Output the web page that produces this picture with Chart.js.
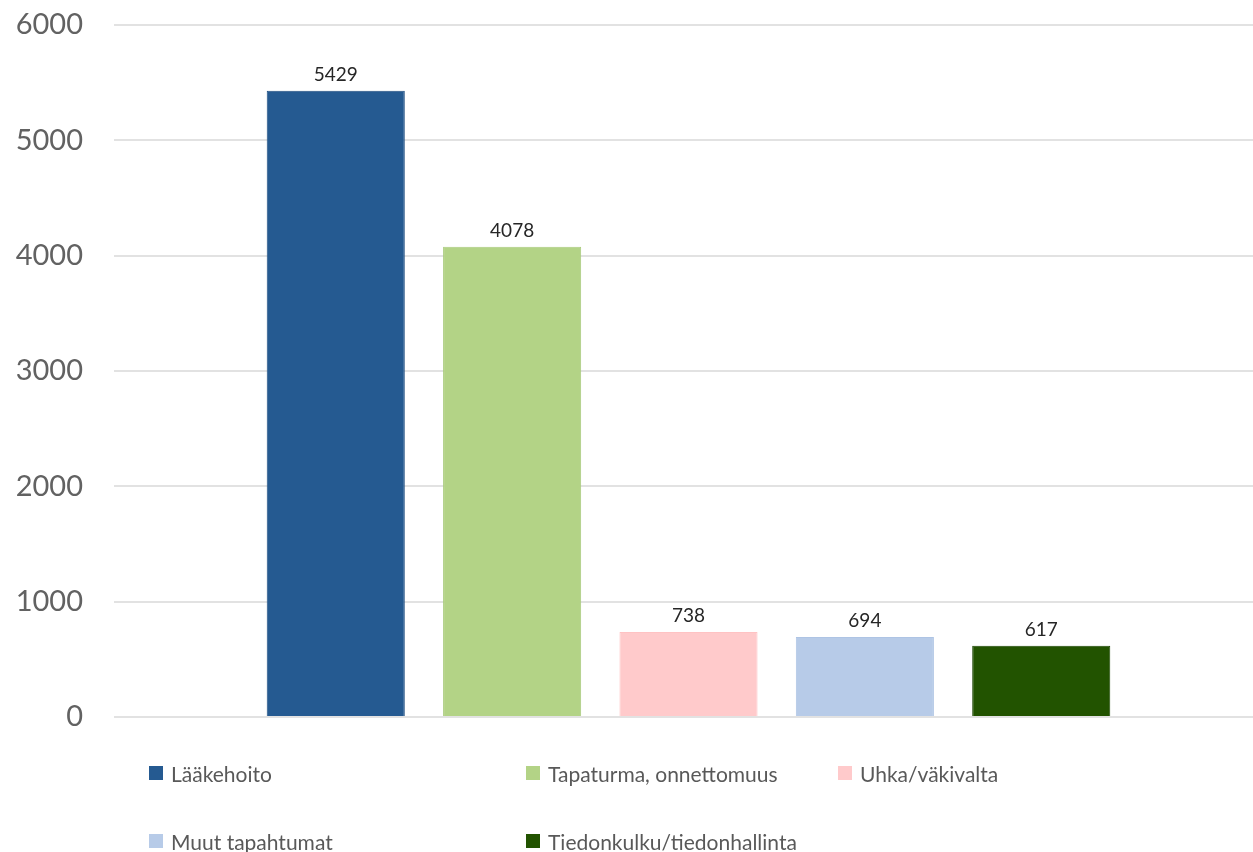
<!DOCTYPE html>
<html lang="fi">
<head>
<meta charset="utf-8">
<title>Haittatapahtumat tyypeittäin</title>
<script src="https://cdn.jsdelivr.net/npm/chart.js@4.4.1/dist/chart.umd.min.js"></script>
<style>
  html, body { margin: 0; padding: 0; background: #ffffff; }
  #wrap { position: relative; width: 1253px; height: 852px; overflow: hidden; }
  #chart { position: absolute; left: 0; top: 0; }
  #legend {
    position: absolute; left: 149px; top: 739px;
    display: grid; grid-template-columns: 377px 312px auto; grid-auto-rows: 68px;
    font-family: Lato, "Open Sans", sans-serif; font-size: 21px; color: #595959;
  }
  .item { display: flex; align-items: center; white-space: nowrap; }
  .box { width: 14px; height: 14px; margin-right: 8px; flex: none; }
</style>
</head>
<body>
<div id="wrap">
  <canvas id="chart" width="1263" height="741"></canvas>
  <div id="legend"></div>
</div>
<script>
// Series (one bar each, all in a single group)
const seriesNames = [
  'Lääkehoito',
  'Tapaturma, onnettomuus',
  'Uhka/väkivalta',
  'Muut tapahtumat',
  'Tiedonkulku/tiedonhallinta'
];
const seriesValues = [5429, 4078, 738, 694, 617];
const seriesColors = ['#255a91', '#b3d386', '#ffcacb', '#b7cbe8', '#225300'];
const seriesBorders = ['#1f4e80', '#a9cb7c', '#ffc2c3', '#aec4e4', '#1b4600'];
const categories = [''];

// Value axis
const yMin = 0;
const yMax = 6000;
const yStep = 1000;

const datasets = seriesNames.map((name, i) => ({
  label: name,
  data: [seriesValues[i]],
  backgroundColor: seriesColors[i],
  borderColor: seriesBorders[i],
  borderWidth: 1,
  categoryPercentage: 0.7675,
  barPercentage: 0.783
}));

// Value labels above each bar
const valueLabels = {
  id: 'valueLabels',
  afterDatasetsDraw(chart) {
    const ctx = chart.ctx;
    ctx.save();
    ctx.font = '19px Lato, "Open Sans", sans-serif';
    ctx.fillStyle = '#262626';
    ctx.textAlign = 'center';
    ctx.textBaseline = 'alphabetic';
    chart.data.datasets.forEach((ds, di) => {
      const meta = chart.getDatasetMeta(di);
      meta.data.forEach((bar, j) => {
        ctx.fillText(String(ds.data[j]), bar.x, bar.y - 10);
      });
    });
    ctx.restore();
  }
};

new Chart(document.getElementById('chart'), {
  type: 'bar',
  data: { labels: categories, datasets },
  options: {
    responsive: false,
    animation: false,
    layout: { padding: { top: 25, bottom: 24, left: 0, right: 0 } },
    plugins: {
      legend: { display: false },
      tooltip: { enabled: false }
    },
    scales: {
      x: { display: false },
      y: {
        min: yMin,
        max: yMax,
        afterFit(scale) {
          scale.width = 114;
          scale.paddingTop = 0;
          scale.paddingBottom = 0;
        },
        border: { display: false },
        grid: { color: '#e2e2e2', lineWidth: 2, drawTicks: false },
        ticks: {
          stepSize: yStep,
          padding: 31,
          color: '#626262',
          font: { family: 'Lato, "Open Sans", sans-serif', size: 29 },
          callback: (v) => String(v)
        }
      }
    }
  },
  plugins: [valueLabels]
});

// Legend laid out in columns
const legend = document.getElementById('legend');
seriesNames.forEach((name, i) => {
  const item = document.createElement('div');
  item.className = 'item';
  const box = document.createElement('span');
  box.className = 'box';
  box.style.background = seriesColors[i];
  const txt = document.createElement('span');
  txt.textContent = name;
  item.appendChild(box);
  item.appendChild(txt);
  legend.appendChild(item);
});
</script>
</body>
</html>
